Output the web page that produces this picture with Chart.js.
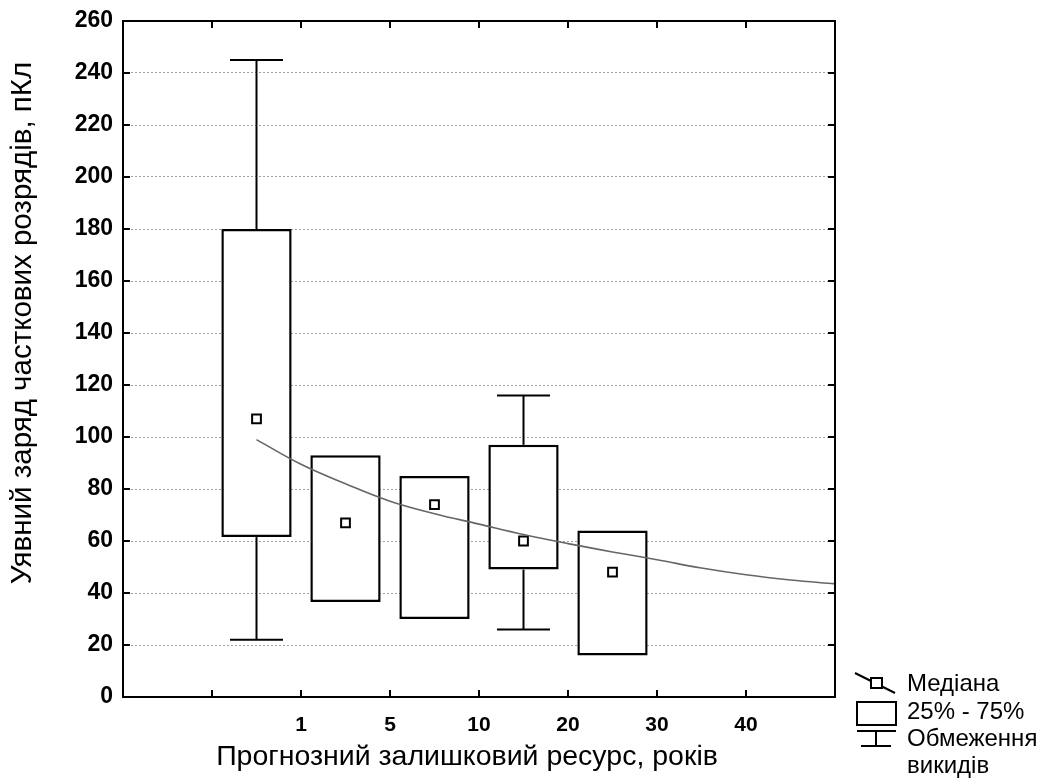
<!DOCTYPE html>
<html>
<head>
<meta charset="utf-8">
<script src="https://cdn.jsdelivr.net/npm/chart.js@4.4.1/dist/chart.umd.min.js"></script>
<style>
  html, body { margin: 0; padding: 0; background: #fff; }
  #wrap { width: 1048px; height: 781px; position: relative; }
</style>
</head>
<body>
<div id="wrap"><canvas id="chart"></canvas></div>
<script>
// tick labels on the x axis, one per integer position 0..8
const xLabels = ['', '', '1', '5', '10', '20', '30', '40', ''];

// box positions (between the ticks) and box-plot values, pC
const boxX = [1.5, 2.5, 3.5, 4.5, 5.5];
const q1 = [61.5, 36.5, 30, 49, 16];
const q3 = [180, 93, 85, 97, 64];
const median = [107, 67, 74, 60, 48];
const whiskerLow = [22, 36.5, 30, 26, 16];
const whiskerHigh = [245, 93, 85, 116, 64];

// fitted trend curve
const trendX = [1.5, 2, 2.5, 3, 3.5, 4, 4.5, 5, 5.5, 6, 6.5, 7, 7.5, 8];
const trendY = [99, 89.5, 82, 75.3, 70.5, 66.5, 62.5, 59, 55.8, 52.8, 49.6, 47, 45, 43.5];

const yTitle = 'Уявний заряд часткових розрядів, пКл';
const xTitle = 'Прогнозний залишковий ресурс, років';
const legendItems = ['Медіана', '25% - 75%', 'Обмеження', 'викидів'];

const FONT = "'Liberation Sans', Arial, sans-serif";

// whisker pieces and caps only where the whisker sticks out of the box
let whiskers = [];
let caps = [];
boxX.forEach((x, i) => {
  if (whiskerHigh[i] > q3[i]) {
    whiskers.push({x: x, y: [q3[i], whiskerHigh[i]]});
    caps.push({x: x, y: whiskerHigh[i]});
  }
  if (whiskerLow[i] < q1[i]) {
    whiskers.push({x: x, y: [whiskerLow[i], q1[i]]});
    caps.push({x: x, y: whiskerLow[i]});
  }
});

const framePlugin = {
  id: 'frame',
  afterDraw(chart) {
    const ctx = chart.ctx;
    const a = chart.chartArea;
    const xs = chart.scales.x, ys = chart.scales.y;
    ctx.save();
    ctx.strokeStyle = '#000';
    ctx.lineWidth = 2;
    ctx.strokeRect(a.left, a.top, a.right - a.left, a.bottom - a.top);

    // inward ticks on all four sides
    ctx.beginPath();
    for (let v = 1; v < xLabels.length - 1; v++) {
      const px = xs.getPixelForValue(v);
      ctx.moveTo(px, a.bottom); ctx.lineTo(px, a.bottom - 7);
      ctx.moveTo(px, a.top); ctx.lineTo(px, a.top + 7);
    }
    ys.ticks.forEach(t => {
      if (t.value <= 0 || t.value >= 260) return;
      const py = ys.getPixelForValue(t.value);
      ctx.moveTo(a.left, py); ctx.lineTo(a.left + 7, py);
      ctx.moveTo(a.right, py); ctx.lineTo(a.right - 7, py);
    });
    ctx.stroke();

    // axis titles
    ctx.fillStyle = '#000';
    ctx.textAlign = 'center';
    ctx.textBaseline = 'alphabetic';
    ctx.font = '28.5px ' + FONT;
    ctx.fillText(xTitle, 467, 765);
    ctx.save();
    ctx.font = '29.5px ' + FONT;
    ctx.translate(31, 323);
    ctx.rotate(-Math.PI / 2);
    ctx.fillText(yTitle, 0, 0);
    ctx.restore();

    // legend, bottom right
    ctx.lineWidth = 2;
    ctx.beginPath();
    ctx.moveTo(855, 673); ctx.lineTo(895, 693);
    ctx.stroke();
    ctx.fillStyle = '#fff';
    ctx.fillRect(871, 678, 11, 10);
    ctx.strokeRect(871, 678, 11, 10);
    ctx.strokeRect(857, 702, 39, 23);
    ctx.beginPath();
    ctx.moveTo(857, 731); ctx.lineTo(896, 731);
    ctx.moveTo(876, 731); ctx.lineTo(876, 746);
    ctx.moveTo(861, 746); ctx.lineTo(891, 746);
    ctx.stroke();

    ctx.fillStyle = '#000';
    ctx.font = '24px ' + FONT;
    ctx.textAlign = 'left';
    ctx.textBaseline = 'middle';
    const rows = [684, 712, 739, 766];
    legendItems.forEach((t, i) => ctx.fillText(t, 907, rows[i]));
    ctx.restore();
  }
};

const ctx = document.getElementById('chart').getContext('2d');
const chart = new Chart(ctx, {
  type: 'line',
  data: {
    datasets: [
      {
        type: 'line',
        label: 'trend',
        data: trendX.map((x, i) => ({x: x, y: trendY[i]})),
        borderColor: '#666',
        borderWidth: 1.6,
        pointRadius: 0,
        tension: 0.4,
        order: 1
      },
      {
        type: 'scatter',
        label: 'median',
        data: boxX.map((x, i) => ({x: x, y: median[i]})),
        pointStyle: 'rect',
        pointRadius: 6.2,
        backgroundColor: '#fff',
        borderColor: '#000',
        borderWidth: 2,
        order: 2
      },
      {
        type: 'scatter',
        label: 'caps',
        data: caps,
        pointStyle: 'line',
        pointRadius: 26.5,
        borderColor: '#000',
        borderWidth: 2,
        order: 3
      },
      {
        type: 'bar',
        label: 'box',
        data: boxX.map((x, i) => ({x: x, y: [q1[i], q3[i]]})),
        backgroundColor: '#fff',
        borderColor: '#000',
        borderWidth: 2.5,
        borderSkipped: false,
        grouped: false,
        categoryPercentage: 1,
        barPercentage: 0.79,
        order: 4
      },
      {
        type: 'bar',
        label: 'whisker',
        data: whiskers,
        backgroundColor: '#000',
        barThickness: 2,
        inflateAmount: 0,
        grouped: false,
        order: 5
      }
    ]
  },
  options: {
    responsive: true,
    maintainAspectRatio: false,
    animation: false,
    layout: { autoPadding: false, padding: { top: 21, right: 213, left: 0, bottom: 0 } },
    plugins: {
      legend: { display: false },
      tooltip: { enabled: false }
    },
    scales: {
      x: {
        type: 'linear',
        min: 0,
        max: 8,
        offset: false,
        grid: { display: false, drawTicks: false },
        border: { display: false },
        ticks: {
          stepSize: 1,
          autoSkip: false,
          maxRotation: 0,
          padding: 16,
          color: '#000',
          font: { family: FONT, size: 21, weight: 'bold' },
          callback: v => xLabels[v] || ''
        },
        afterFit: s => { s.height = 84; s.paddingLeft = 0; s.paddingRight = 0; }
      },
      y: {
        min: 0,
        max: 260,
        grid: {
          drawTicks: false,
          lineWidth: 1,
          color: c => (c.tick.value > 0 && c.tick.value < 260) ? '#a0a0a0' : 'rgba(0,0,0,0)'
        },
        border: { display: false, dash: [2, 2] },
        ticks: {
          stepSize: 20,
          padding: 10,
          color: '#000',
          font: { family: FONT, size: 23, weight: 'bold' }
        },
        afterFit: s => { s.width = 123; s.paddingTop = 0; s.paddingBottom = 0; }
      }
    }
  },
  plugins: [framePlugin]
});
</script>
</body>
</html>
